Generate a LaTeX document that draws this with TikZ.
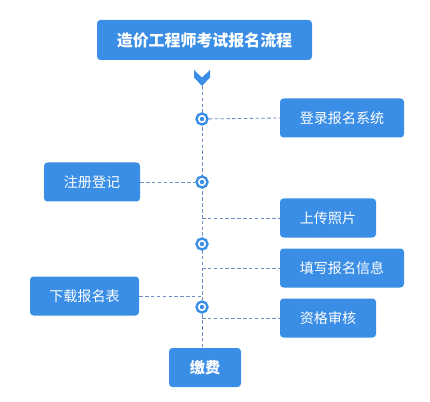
\documentclass[tikz,border=0pt]{standalone}
\usepackage{fontspec}
\newfontfamily\cjk{Noto Sans CJK SC}
\definecolor{stepblue}{HTML}{3A8EE6}
\definecolor{linkgray}{HTML}{6F8CC4}
\tikzset{
  stepbox/.style={fill=stepblue,rounded corners=3pt,text=white,font=\cjk\fontsize{12}{14}\selectfont,minimum height=39*0.03cm,inner sep=0pt},
  dot/.style={circle,draw=stepblue,line width=2pt,fill=white,minimum size=11*0.03cm,inner sep=0pt},
  link/.style={dashed,linkgray,line width=0.7pt,dash pattern=on 3pt off 2pt}
}
\begin{document}
\begin{tikzpicture}[x=0.03cm,y=-0.03cm]
\useasboundingbox (0,0) rectangle (430,402);
% title and arrow
\node[stepbox,minimum width=215*0.03cm,minimum height=40*0.03cm,font=\cjk\bfseries\fontsize{13.6}{16}\selectfont] (title) at (204.5,40) {造价工程师考试报名流程};
\fill[stepblue] (194,70) -- (202,77.5) -- (210,70) -- (210,77.5) -- (202,86) -- (194,77.5) -- cycle;
\coordinate (top) at (202,86);
% steps
\node[stepbox,minimum width=124*0.03cm] (login) at (342,118) {登录报名系统};
\node[stepbox,minimum width=96*0.03cm] (register) at (92,182) {注册登记};
\node[stepbox,minimum width=96*0.03cm] (photo) at (328,218) {上传照片};
\node[stepbox,minimum width=124*0.03cm] (info) at (342,268) {填写报名信息};
\node[stepbox,minimum width=109*0.03cm] (form) at (84.5,296) {下载报名表};
\node[stepbox,minimum width=96*0.03cm] (check) at (328,318) {资格审核};
\node[stepbox,minimum width=72*0.03cm,font=\cjk\bfseries\fontsize{13}{15}\selectfont] (pay) at (205,367.5) {缴费};
% spine
\draw[link] (top) -- (202,348);
\coordinate (p1) at (202,218);
\coordinate (p2) at (202,268);
\coordinate (p3) at (202,296);
\coordinate (p4) at (202,318);
\foreach \n/\y in {1/119,2/182,3/244,4/307}
  \node[dot] (dot\n) at (202,\y) {};
\foreach \n in {1,2,3,4}
  \fill[stepblue] (dot\n) circle (2.2);
% links
\draw[link] (dot1) -- (login.west);
\draw[link] (register.east) -- (dot2);
\draw[link] (p1) -- (photo.west);
\draw[link] (p2) -- (info.west);
\draw[link] (form.east) -- (p3);
\draw[link] (p4) -- (check.west);
\end{tikzpicture}
\end{document}
